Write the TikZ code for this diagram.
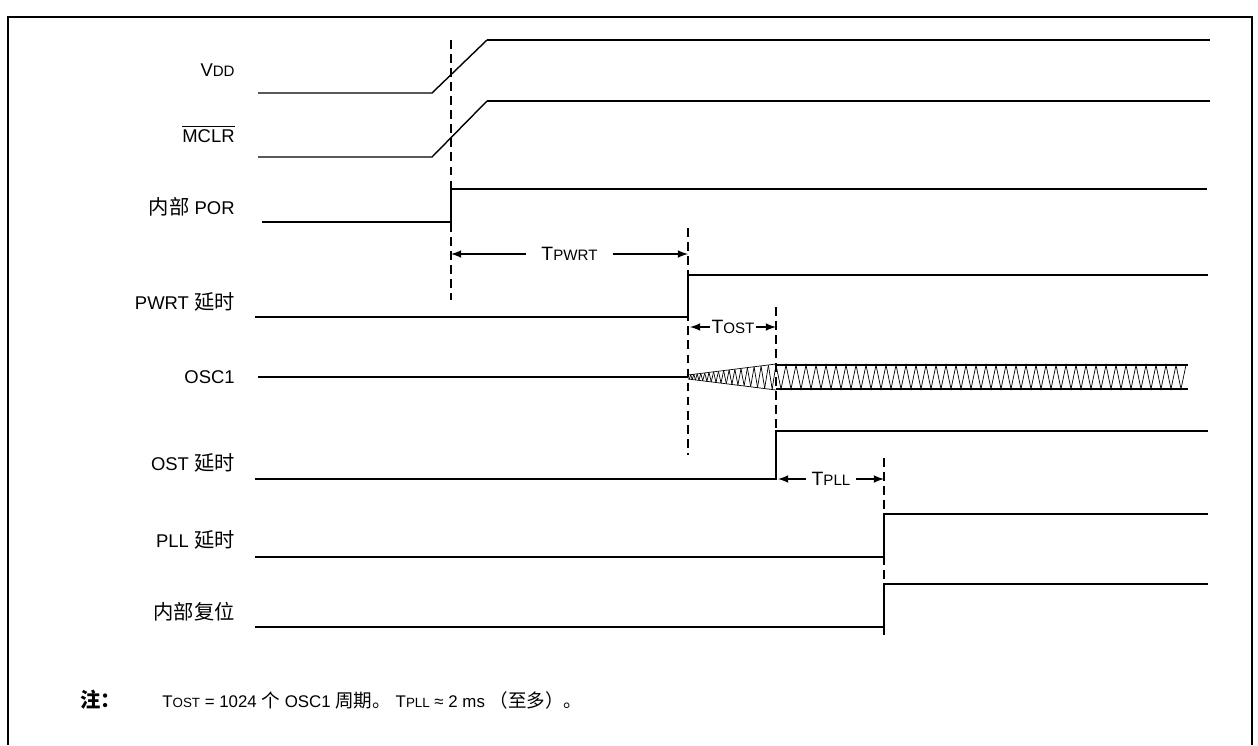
\documentclass[tikz,border=0pt]{standalone}
\usepackage{fontspec}
\setmainfont{Liberation Sans}
\newfontfamily\cjk[Scale=1.1]{Noto Sans CJK SC}
\newcommand\lowcap[2][8.6]{{\fontsize{#1}{9}\selectfont #2}}
\tikzset{
  signal/.style={line width=1.3pt},
  ramp/.style={line width=0.8pt},
  marker/.style={line width=1.2pt, dash pattern=on 5pt off 3pt},
  signame/.style={anchor=east, inner sep=0pt, font=\fontsize{10.5}{13}\selectfont},
  timespan/.style={line width=1pt, latex-latex},
  spanname/.style={fill=white, inner sep=2pt, font=\fontsize{11}{13}\selectfont},
}
\begin{document}
\begin{tikzpicture}[x=0.02cm, y=-0.02cm]
\useasboundingbox (0,0) rectangle (1258,745);
% cadre
\draw[line width=1.6pt] (8,745) -- (8,17) -- (1252,17) -- (1252,745);

% instants
\coordinate (tpor) at (451,254);
\coordinate (tpwrt) at (688,254);
\coordinate (tost1) at (690,327);
\coordinate (tost2) at (776,327);
\coordinate (tpll1) at (778,479);
\coordinate (tpll2) at (884,479);

% noms des signaux
\node[signame] (vdd) at (235,70) {V\lowcap{DD}};
\node[signame] (mclr) at (235,134) {$\overline{\mbox{MCLR}}$};
\node[signame] (por) at (235,207) {{\cjk 内部} POR};
\node[signame] (pwrt) at (235,302) {PWRT {\cjk 延时}};
\node[signame] (osc) at (235,377) {OSC1};
\node[signame] (ost) at (235,463) {OST {\cjk 延时}};
\node[signame] (pll) at (235,540) {PLL {\cjk 延时}};
\node[signame] (rst) at (235,612) {{\cjk 内部复位}};

% VDD et MCLR
\draw[ramp] (258,93) -- (432,93) -- (487,40);
\draw[signal] (487,40) -- (1210,40);
\draw[ramp] (258,157) -- (432,157) -- (487,101);
\draw[signal] (487,101) -- (1210,101);

% fronts
\draw[signal] (262,222) -- (451,222) -- (451,189) -- (1207,189);
\draw[signal] (255,317) -- (688,317) -- (688,275) -- (1208,275);
\draw[signal] (255,479) -- (776,479) -- (776,431) -- (1208,431);
\draw[signal] (255,557) -- (884,557) -- (884,514) -- (1208,514);
\draw[signal] (255,627) -- (884,627) -- (884,584) -- (1208,584);

% OSC1
\draw[signal] (258,377) -- (688,377);
\draw[thin] (688,375) -- (776,364) (688,379) -- (776,390);
\foreach \i [evaluate=\i as \xa using {688+88*(0.5*\i/34+0.5*(\i/34)^2)},
             evaluate=\i as \xb using {688+88*(0.5*(\i+1)/34+0.5*((\i+1)/34)^2)},
             evaluate=\i as \ya using {377+(2*mod(\i,2)-1)*(2+10.5*(\xa-688)/88)},
             evaluate=\i as \yb using {377-(2*mod(\i,2)-1)*(2+10.5*(\xb-688)/88)}]
  in {0,...,33}
  \draw[thin] (\xa,\ya) -- (\xb,\yb);
\draw[thin] (776,365) \foreach \i in {1,...,41} { -- ++(5,24) -- ++(5,-24)};
\draw[signal] (776,365) -- (1188,365) (776,389) -- (1188,389);

% reperes
\draw[marker] (451,40) -- (451,300);
\draw[marker] (688,228) -- (688,455);
\draw[marker] (776,307) -- (776,431);
\draw[marker] (884,458) -- (884,640);

% durees
\draw[timespan] (tpor) -- node[spanname, inner xsep=9pt]{T\lowcap{PWRT}} (tpwrt);
\draw[timespan] (tost1) -- node[spanname, inner sep=1pt]{T\lowcap{OST}} (tost2);
\draw[timespan] (tpll1) -- node[spanname, inner xsep=3pt]{T\lowcap{PLL}} (tpll2);

% note
\node[anchor=west, inner sep=0pt, font=\fontsize{10.5}{13}\selectfont] (notehead) at (80,700) {\cjk\bfseries 注：};
\node[anchor=west, inner sep=0pt, font=\fontsize{9.6}{12}\selectfont] (note) at (162,700)
  {T\lowcap[7.6]{OST} = 1024 {\cjk 个} OSC1 {\cjk 周期。} T\lowcap[7.6]{PLL} ≈ 2 ms {\cjk （至多）。}};
\end{tikzpicture}
\end{document}
